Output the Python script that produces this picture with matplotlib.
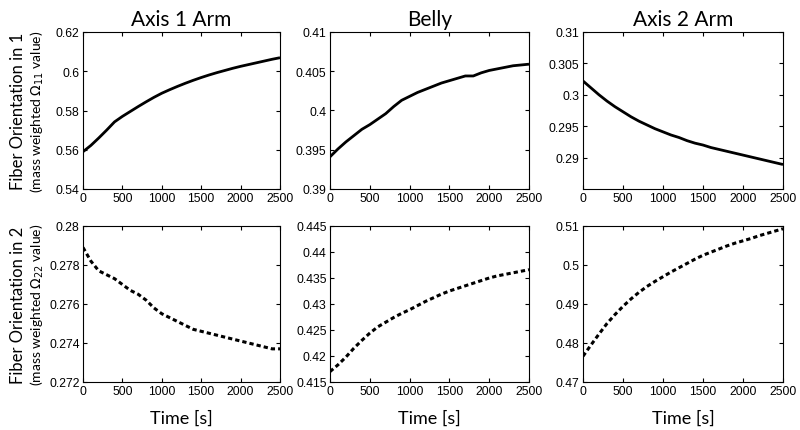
import numpy as np
import matplotlib
matplotlib.use('Agg')
import matplotlib.pyplot as plt
from matplotlib.ticker import FormatStrFormatter

plt.rcParams['font.family'] = ['Liberation Sans', 'DejaVu Sans']
plt.rcParams['mathtext.fontset'] = 'dejavusans'

time = np.arange(0, 2600, 100)

# top row: mass weighted Omega_11
arm1_o11 = [0.5590, 0.5622, 0.5660, 0.5700, 0.5742, 0.5770, 0.5795, 0.5820, 0.5844,
            0.5867, 0.5888, 0.5906, 0.5923, 0.5939, 0.5954, 0.5968, 0.5981, 0.5993,
            0.6004, 0.6015, 0.6025, 0.6034, 0.6043, 0.6052, 0.6061, 0.6069]
belly_o11 = [0.3941, 0.3951, 0.3960, 0.3968, 0.3976, 0.3982, 0.3989, 0.3996, 0.4005,
             0.4013, 0.4018, 0.4023, 0.4027, 0.4031, 0.4035, 0.4038, 0.4041, 0.4044,
             0.4044, 0.4048, 0.4051, 0.4053, 0.4055, 0.4057, 0.4058, 0.4059]
arm2_o11 = [0.3022, 0.3011, 0.3000, 0.2990, 0.2981, 0.2973, 0.2965, 0.2958, 0.2952,
            0.2946, 0.2941, 0.2936, 0.2932, 0.2927, 0.2923, 0.2920, 0.2916, 0.2913,
            0.2910, 0.2907, 0.2904, 0.2901, 0.2898, 0.2895, 0.2892, 0.2889]

# bottom row: mass weighted Omega_22
arm1_o22 = [0.2789, 0.2782, 0.2777, 0.2775, 0.2773, 0.2770, 0.2767, 0.2765, 0.2762,
            0.2758, 0.2755, 0.2753, 0.2751, 0.2749, 0.2747, 0.2746, 0.2745, 0.2744,
            0.2743, 0.2742, 0.2741, 0.2740, 0.2739, 0.2738, 0.2737, 0.2737]
belly_o22 = [0.4170, 0.4183, 0.4198, 0.4215, 0.4230, 0.4244, 0.4256, 0.4265, 0.4274,
             0.4282, 0.4289, 0.4297, 0.4305, 0.4312, 0.4319, 0.4325, 0.4330, 0.4335,
             0.4340, 0.4345, 0.4350, 0.4354, 0.4357, 0.4360, 0.4363, 0.4366]
arm2_o22 = [0.4766, 0.4795, 0.4823, 0.4850, 0.4873, 0.4894, 0.4913, 0.4930, 0.4945,
            0.4958, 0.4970, 0.4982, 0.4993, 0.5004, 0.5015, 0.5025, 0.5033, 0.5041,
            0.5049, 0.5056, 0.5062, 0.5068, 0.5075, 0.5081, 0.5087, 0.5093]

titles = ['Axis 1 Arm', 'Belly', 'Axis 2 Arm']
top_series = [arm1_o11, belly_o11, arm2_o11]
bot_series = [arm1_o22, belly_o22, arm2_o22]
top_lims = [(0.54, 0.62), (0.39, 0.41), (0.285, 0.31)]
top_ticks = [[0.54, 0.56, 0.58, 0.60, 0.62], [0.39, 0.395, 0.40, 0.405, 0.41],
             [0.29, 0.295, 0.30, 0.305, 0.31]]
bot_lims = [(0.272, 0.28), (0.415, 0.445), (0.47, 0.51)]
bot_ticks = [[0.272, 0.274, 0.276, 0.278, 0.28],
             [0.415, 0.42, 0.425, 0.43, 0.435, 0.44, 0.445],
             [0.47, 0.48, 0.49, 0.50, 0.51]]
xticks = [0, 500, 1000, 1500, 2000, 2500]

W, H = 800, 431
fig = plt.figure(figsize=(8, 4.31), dpi=100)

cols = [(83, 280), (330, 529), (583, 783)]
rows = [(33, 190), (227, 383)]

label_font = ['Lato', 'DejaVu Sans']

def style(ax, lims, ticks):
    ax.set_xlim(0, 2500)
    ax.set_ylim(*lims)
    ax.set_xticks(xticks)
    ax.set_yticks(ticks)
    ax.xaxis.set_major_formatter(FormatStrFormatter('%g'))
    ax.yaxis.set_major_formatter(FormatStrFormatter('%g'))
    ax.tick_params(direction='in', top=True, right=True, length=3, width=0.8,
                   labelsize=8.8, pad=2.5)
    for s in ax.spines.values():
        s.set_linewidth(0.8)

for i in range(3):
    x0, x1 = cols[i]
    for j, (series, lims, ticks) in enumerate([(top_series[i], top_lims[i], top_ticks[i]),
                                               (bot_series[i], bot_lims[i], bot_ticks[i])]):
        y0, y1 = rows[j]
        ax = fig.add_axes([x0 / W, 1 - y1 / H, (x1 - x0) / W, (y1 - y0) / H])
        if j == 0:
            ax.plot(time, series, color='black', lw=2.0, solid_capstyle='butt')
            ax.set_title(titles[i], fontsize=15, family=label_font, pad=5)
        else:
            ax.plot(time, series, color='black', lw=2.2, linestyle=(0, (1.4, 1.0)),
                    dash_capstyle='butt')
            ax.set_xlabel('Time [s]', fontsize=13, family=label_font, labelpad=9)
        style(ax, lims, ticks)

for j, n in enumerate(['1', '2']):
    y0, y1 = rows[j]
    yc = 1 - (y0 + y1) / 2 / H
    fig.text(18 / W, yc, 'Fiber Orientation in ' + n, rotation=90, ha='center',
             va='center', fontsize=12, family=label_font)
    fig.text(37 / W, yc, r'(mass weighted $\Omega_{%s}$ value)' % (n + n), rotation=90,
             ha='center', va='center', fontsize=10, family=label_font)

fig.savefig('out.png', dpi=100)
